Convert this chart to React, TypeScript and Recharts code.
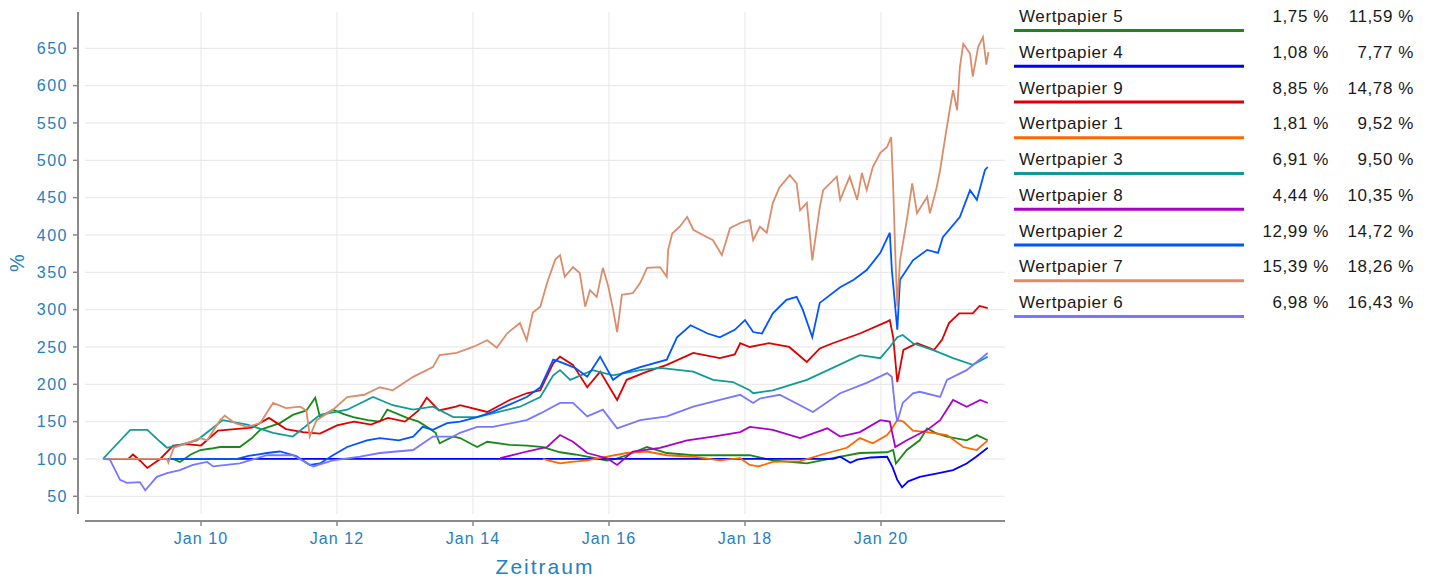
import { CartesianGrid, Line, LineChart, XAxis, YAxis } from "recharts";

type Pt = [number, number];

// legend order = drawing order
const names = ["Wertpapier 5", "Wertpapier 4", "Wertpapier 9", "Wertpapier 1", "Wertpapier 3", "Wertpapier 8", "Wertpapier 2", "Wertpapier 7", "Wertpapier 6"];
const colors = ["#178a17", "#0000ff", "#dd0000", "#ff6600", "#109b98", "#aa00cc", "#0055ff", "#db8c6b", "#7777ff"];
const perfA = ["1,75 %", "1,08 %", "8,85 %", "1,81 %", "6,91 %", "4,44 %", "12,99 %", "15,39 %", "6,98 %"];
const perfB = ["11,59 %", "7,77 %", "14,78 %", "9,52 %", "9,50 %", "10,35 %", "14,72 %", "18,26 %", "16,43 %"];

const xTicks = [2010, 2012, 2014, 2016, 2018, 2020];
const xTickLabels = ["Jan 10", "Jan 12", "Jan 14", "Jan 16", "Jan 18", "Jan 20"];
const yTicks = [50, 100, 150, 200, 250, 300, 350, 400, 450, 500, 550, 600, 650];

const w5: Pt[] = [[2009.59,100],[2009.69,96],[2009.85,106],[2009.99,112],[2010.15,114],[2010.28,116],[2010.57,116],[2010.75,128],[2010.87,139],[2011.16,148],[2011.35,159],[2011.55,165],[2011.68,182],[2011.75,156],[2011.94,166],[2012.1,160],[2012.24,156],[2012.45,152],[2012.63,150],[2012.74,166],[2013.03,155],[2013.2,150],[2013.32,143],[2013.45,135],[2013.51,121],[2013.71,130],[2013.81,128],[2014.06,116],[2014.21,123],[2014.54,119],[2014.8,118],[2015.03,116],[2015.28,109],[2015.5,106],[2015.68,103],[2015.97,98],[2016.1,100],[2016.26,105],[2016.56,116],[2016.85,108],[2017.24,105],[2017.63,105],[2018.07,105],[2018.41,98],[2018.91,94],[2019.29,101],[2019.69,108],[2020.09,109],[2020.18,112],[2020.22,94],[2020.38,112],[2020.57,125],[2020.68,141],[2020.8,135],[2020.97,130],[2021.26,125],[2021.41,132],[2021.57,125]];

const w4: Pt[] = [[2008.56,100],[2019.3,100],[2019.4,103],[2019.55,95],[2019.65,99],[2019.85,102],[2020.09,103],[2020.17,89],[2020.24,72],[2020.31,62],[2020.4,70],[2020.57,76],[2020.85,81],[2021.06,85],[2021.26,94],[2021.4,103],[2021.57,115]];

const w9: Pt[] = [[2008.93,100],[2009.0,106],[2009.1,98],[2009.21,88],[2009.4,100],[2009.59,118],[2009.79,120],[2010.0,118],[2010.25,138],[2010.5,140],[2010.75,142],[2011.0,155],[2011.25,140],[2011.5,136],[2011.75,134],[2012.0,145],[2012.25,150],[2012.5,146],[2012.75,155],[2013.0,150],[2013.2,165],[2013.32,182],[2013.5,165],[2013.75,170],[2013.81,172],[2014.21,163],[2014.54,179],[2014.79,188],[2014.99,192],[2015.18,228],[2015.28,237],[2015.47,226],[2015.68,196],[2015.87,217],[2016.12,179],[2016.26,206],[2016.56,217],[2016.85,226],[2017.24,242],[2017.63,235],[2017.85,240],[2017.93,255],[2018.07,250],[2018.35,255],[2018.65,250],[2018.91,230],[2019.1,248],[2019.29,255],[2019.69,268],[2020.09,284],[2020.13,286],[2020.18,263],[2020.24,203],[2020.33,246],[2020.53,255],[2020.78,246],[2020.9,260],[2021.0,282],[2021.15,295],[2021.35,295],[2021.45,305],[2021.57,302]];

const w1: Pt[] = [[2015.03,100],[2015.15,97],[2015.28,94],[2015.45,96],[2015.68,98],[2015.97,103],[2016.26,108],[2016.56,110],[2016.85,105],[2017.24,103],[2017.63,98],[2017.93,101],[2018.07,92],[2018.2,90],[2018.41,96],[2018.81,97],[2019.21,108],[2019.5,115],[2019.69,128],[2019.88,121],[2020.09,132],[2020.15,139],[2020.24,152],[2020.33,150],[2020.47,138],[2020.68,136],[2020.97,132],[2021.21,116],[2021.41,112],[2021.57,125]];

const w3: Pt[] = [[2008.56,100],[2008.66,110],[2008.96,139],[2009.21,139],[2009.4,123],[2009.5,115],[2009.69,119],[2009.94,125],[2010.32,152],[2010.68,146],[2011.06,135],[2011.35,130],[2011.75,159],[2012.15,166],[2012.53,183],[2012.82,172],[2013.12,166],[2013.41,170],[2013.71,156],[2014.06,156],[2014.29,161],[2014.69,170],[2014.99,183],[2015.18,212],[2015.28,219],[2015.43,206],[2015.76,219],[2016.06,212],[2016.46,219],[2016.75,222],[2017.24,217],[2017.53,206],[2017.82,203],[2018.07,192],[2018.12,188],[2018.41,192],[2018.91,206],[2019.29,222],[2019.69,239],[2019.99,235],[2020.13,250],[2020.24,263],[2020.32,266],[2020.47,255],[2020.76,246],[2021.06,235],[2021.35,226],[2021.57,237]];

const w8: Pt[] = [[2014.4,101],[2014.79,110],[2015.09,116],[2015.28,132],[2015.47,123],[2015.68,108],[2015.97,101],[2016.12,92],[2016.35,110],[2016.75,115],[2017.15,125],[2017.53,130],[2017.93,136],[2018.07,143],[2018.41,139],[2018.81,128],[2019.21,141],[2019.4,130],[2019.69,136],[2019.99,152],[2020.13,150],[2020.21,116],[2020.38,125],[2020.68,139],[2020.87,152],[2021.06,179],[2021.26,170],[2021.46,179],[2021.57,175]];

const w2: Pt[] = [[2008.56,100],[2010.53,100],[2010.7,104],[2010.97,108],[2011.16,110],[2011.4,104],[2011.6,92],[2011.75,94],[2011.94,105],[2012.15,116],[2012.44,125],[2012.63,128],[2012.91,125],[2013.12,130],[2013.26,143],[2013.41,139],[2013.62,148],[2013.81,150],[2014.06,156],[2014.29,163],[2014.79,183],[2014.99,196],[2015.18,233],[2015.28,230],[2015.5,222],[2015.68,210],[2015.87,237],[2016.06,206],[2016.2,215],[2016.46,223],[2016.85,233],[2017.0,263],[2017.2,279],[2017.45,268],[2017.63,263],[2017.85,273],[2018.0,286],[2018.12,270],[2018.25,268],[2018.41,295],[2018.61,313],[2018.76,317],[2018.85,300],[2018.99,263],[2019.1,309],[2019.4,330],[2019.6,340],[2019.79,353],[2019.99,376],[2020.13,403],[2020.16,353],[2020.24,273],[2020.28,340],[2020.47,366],[2020.68,380],[2020.84,376],[2020.91,397],[2021.16,424],[2021.31,460],[2021.41,447],[2021.53,487],[2021.57,491]];

const w7: Pt[] = [[2008.56,100],[2009.5,100],[2009.52,95],[2009.6,115],[2009.79,121],[2009.99,128],[2010.09,125],[2010.28,152],[2010.35,158],[2010.5,148],[2010.68,143],[2010.87,148],[2011.06,175],[2011.25,168],[2011.46,170],[2011.55,165],[2011.6,130],[2011.7,152],[2011.94,166],[2012.15,183],[2012.4,186],[2012.63,196],[2012.82,192],[2013.12,210],[2013.41,223],[2013.51,239],[2013.76,242],[2014.0,250],[2014.21,259],[2014.35,249],[2014.5,268],[2014.69,282],[2014.79,259],[2014.88,296],[2014.99,304],[2015.09,336],[2015.21,367],[2015.28,373],[2015.35,344],[2015.47,357],[2015.57,349],[2015.65,304],[2015.72,326],[2015.82,317],[2015.91,356],[2015.99,331],[2016.06,300],[2016.12,270],[2016.19,320],[2016.35,322],[2016.46,336],[2016.56,356],[2016.75,357],[2016.85,344],[2016.87,380],[2016.93,402],[2017.04,411],[2017.15,424],[2017.24,407],[2017.38,400],[2017.53,393],[2017.66,373],[2017.78,409],[2017.93,416],[2018.07,420],[2018.12,393],[2018.22,411],[2018.32,403],[2018.41,443],[2018.51,464],[2018.66,480],[2018.76,469],[2018.81,433],[2018.91,443],[2018.99,366],[2019.1,437],[2019.15,460],[2019.35,478],[2019.4,447],[2019.54,478],[2019.65,447],[2019.72,483],[2019.79,460],[2019.88,491],[2019.99,510],[2020.09,518],[2020.15,531],[2020.18,464],[2020.21,376],[2020.24,304],[2020.28,366],[2020.38,420],[2020.46,469],[2020.53,429],[2020.68,451],[2020.72,429],[2020.82,464],[2020.87,487],[2020.97,545],[2021.06,594],[2021.12,567],[2021.16,624],[2021.21,656],[2021.31,643],[2021.35,612],[2021.43,652],[2021.5,665],[2021.55,628],[2021.58,645]];

const w6: Pt[] = [[2008.56,100],[2008.66,99],[2008.81,72],[2008.91,68],[2009.1,69],[2009.18,58],[2009.35,76],[2009.5,81],[2009.69,85],[2009.88,92],[2010.09,96],[2010.18,90],[2010.57,94],[2010.97,105],[2011.35,105],[2011.65,90],[2011.94,98],[2012.34,103],[2012.63,108],[2013.12,112],[2013.41,130],[2013.71,130],[2013.81,135],[2014.06,143],[2014.29,143],[2014.79,152],[2014.99,161],[2015.28,175],[2015.47,175],[2015.68,157],[2015.91,166],[2016.12,141],[2016.46,152],[2016.85,157],[2017.24,170],[2017.63,179],[2017.93,186],[2018.12,175],[2018.22,181],[2018.51,186],[2019.0,163],[2019.4,188],[2019.79,202],[2020.09,215],[2020.16,210],[2020.21,166],[2020.24,150],[2020.32,175],[2020.47,188],[2020.57,190],[2020.87,183],[2020.97,206],[2021.26,219],[2021.57,242]];

const series = [w5, w4, w9, w1, w3, w8, w2, w7, w6];

const axisBlue = "#2580bf";
const font = "'Liberation Sans', Arial, sans-serif";

function YTitle(props: any) {
  const vb = props.viewBox;
  const cx = vb.x + 17;
  const cy = vb.y + vb.height / 2;
  return (
    <text x={cx} y={cy} transform={`rotate(-90 ${cx} ${cy})`} textAnchor="middle" dominantBaseline="central"
      fill={axisBlue} fontSize={20} fontFamily={font}>%</text>
  );
}

export default function App() {
  return (
    <div style={{ position: "relative", width: 1434, height: 580, fontFamily: font }}>
      <style>{"body{margin:0}"}</style>
      <LineChart width={1434} height={580} margin={{ top: 12, right: 429, left: 0, bottom: 0 }}>
        <CartesianGrid stroke="#e6e6e6" strokeWidth={1} horizontalValues={yTicks} verticalValues={xTicks} />
        <XAxis
          type="number"
          dataKey="t"
          domain={[2008.294, 2021.824]}
          ticks={xTicks}
          tickFormatter={(v: number, i: number) => xTickLabels[i]}
          height={66}
          tickSize={5}
          tickMargin={14}
          axisLine={{ stroke: "#8a8a8a", strokeWidth: 2, transform: "translate(0 7)" }}
          tickLine={{ stroke: "#8a8a8a", strokeWidth: 1.5, transform: "translate(0 7)" }}
          tick={{ fill: axisBlue, fontSize: 16, fontFamily: font, letterSpacing: 1.1 }}
          label={{ value: "Zeitraum", position: "insideBottom", offset: 6, fill: axisBlue, fontSize: 21, fontFamily: font, letterSpacing: 2 }}
          allowDataOverflow
        />
        <YAxis
          type="number"
          domain={[26.3, 698.6]}
          ticks={yTicks}
          width={85}
          tickSize={5}
          tickMargin={12}
          axisLine={{ stroke: "#8a8a8a", strokeWidth: 2, transform: "translate(-7 0)" }}
          tickLine={{ stroke: "#8a8a8a", strokeWidth: 1.5, transform: "translate(-7 0)" }}
          tick={{ fill: axisBlue, fontSize: 16, fontFamily: font, letterSpacing: 1.5 }}
          label={{ content: YTitle }}
          allowDataOverflow
        />
        {series.map((pts, i) => (
          <Line
            key={names[i]}
            data={pts.map(([t, v]) => ({ t, v }))}
            dataKey="v"
            name={names[i]}
            stroke={colors[i]}
            strokeWidth={1.8}
            dot={false}
            activeDot={false}
            type="linear"
            isAnimationActive={false}
          />
        ))}
      </LineChart>
      <svg width={1434} height={580} style={{ position: "absolute", left: 0, top: 0, pointerEvents: "none" }}>
        {names.map((n, i) => {
          const y = 22 + i * 35.75;
          return (
            <g key={n} fontFamily={font} fontSize={17} fill="#1a1a1a" letterSpacing={0.6}>
              <text x={1019} y={y}>{n}</text>
              <text x={1329} y={y} textAnchor="end">{perfA[i]}</text>
              <text x={1414} y={y} textAnchor="end">{perfB[i]}</text>
              <line x1={1014} x2={1244} y1={y + 8.5} y2={y + 8.5} stroke={colors[i]} strokeWidth={3} />
            </g>
          );
        })}
      </svg>
    </div>
  );
}
